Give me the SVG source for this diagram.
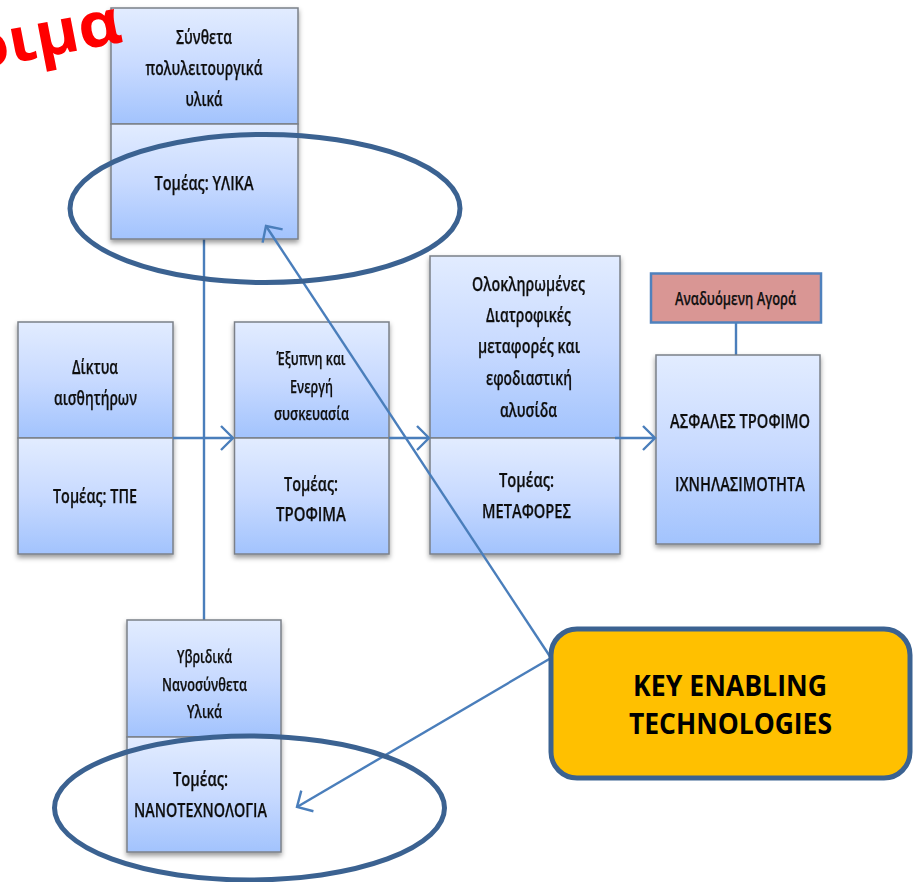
<svg xmlns="http://www.w3.org/2000/svg" width="913" height="882" viewBox="0 0 913 882">
<style>
.t{font-family:"Open Sans","Noto Sans","Liberation Sans",sans-serif;font-size:20px;font-weight:600;fill:#111;stroke:#111;stroke-width:.25;text-anchor:middle}
.box{fill:url(#g);stroke:#7b8088;stroke-width:1.5}
.c{fill:none;stroke:#4a7ebb;stroke-width:2.4}
.e{fill:none;stroke:#3b6291;stroke-width:5}
.shadow{filter:url(#s)}
</style>
<defs>
<linearGradient id="g" x1="0" y1="0" x2="0" y2="1"><stop offset="0" stop-color="#e2ecff"/><stop offset=".5" stop-color="#c8daff"/><stop offset="1" stop-color="#a2c3fd"/></linearGradient>
<filter id="s" x="-10%" y="-10%" width="120%" height="120%"><feDropShadow dx="0" dy="3" stdDeviation="2.5" flood-color="#000" flood-opacity=".4"/></filter>
<marker id="a" markerUnits="userSpaceOnUse" markerWidth="24" markerHeight="28" refX="20" refY="14" orient="auto"><path d="M8 2 L20 14 L8 26" fill="none" stroke="#4a7ebb" stroke-width="2.4"/></marker>
</defs>
<g id="connectors">
<path class="c" d="M204 239V620"/>
<path class="c" d="M736 323V355"/>
</g>
<g id="node-ylika" class="shadow"><rect class="box" x="111" y="8" width="187" height="116"/><rect class="box" x="111" y="124" width="187" height="115"/>
<text class="t" x="204" y="44" textLength="56" lengthAdjust="spacingAndGlyphs">Σύνθετα</text><text class="t" x="204" y="75" textLength="117" lengthAdjust="spacingAndGlyphs">πολυλειτουργικά</text><text class="t" x="204" y="106" textLength="37" lengthAdjust="spacingAndGlyphs">υλικά</text><text class="t" x="204" y="190" textLength="99" lengthAdjust="spacingAndGlyphs">Τομέας: ΥΛΙΚΑ</text></g>
<g id="node-tpe" class="shadow"><rect class="box" x="18" y="322" width="155" height="116"/><rect class="box" x="18" y="438" width="155" height="116"/>
<text class="t" x="95" y="374" textLength="46" lengthAdjust="spacingAndGlyphs">Δίκτυα</text><text class="t" x="95.500" y="405" textLength="83" lengthAdjust="spacingAndGlyphs">αισθητήρων</text><text class="t" x="95" y="503" textLength="84" lengthAdjust="spacingAndGlyphs">Τομέας: ΤΠΕ</text></g>
<g id="node-trofima" class="shadow"><rect class="box" x="234.500" y="322" width="154.500" height="116"/><rect class="box" x="234.500" y="438" width="154.500" height="116"/>
<text class="t" x="311" y="365" style="font-size:18px" textLength="69" lengthAdjust="spacingAndGlyphs">Έξυπνη και</text><text class="t" x="311.500" y="393" style="font-size:18px" textLength="43" lengthAdjust="spacingAndGlyphs">Ενεργή</text><text class="t" x="311.500" y="420" style="font-size:18px" textLength="75" lengthAdjust="spacingAndGlyphs">συσκευασία</text><text class="t" x="311" y="491" textLength="54" lengthAdjust="spacingAndGlyphs">Τομέας:</text><text class="t" x="311" y="521" textLength="70" lengthAdjust="spacingAndGlyphs">ΤΡΟΦΙΜΑ</text></g>
<g id="node-metafores" class="shadow"><rect class="box" x="430" y="256" width="190" height="182"/><rect class="box" x="430" y="438" width="190" height="116"/>
<text class="t" x="528.500" y="291" textLength="113" lengthAdjust="spacingAndGlyphs">Ολοκληρωμένες</text><text class="t" x="528.500" y="322" textLength="85" lengthAdjust="spacingAndGlyphs">Διατροφικές</text><text class="t" x="529" y="353" textLength="102" lengthAdjust="spacingAndGlyphs">μεταφορές και</text><text class="t" x="529" y="385" textLength="86" lengthAdjust="spacingAndGlyphs">εφοδιαστική</text><text class="t" x="528.500" y="417" textLength="57" lengthAdjust="spacingAndGlyphs">αλυσίδα</text><text class="t" x="526.500" y="487" textLength="55" lengthAdjust="spacingAndGlyphs">Τομέας:</text><text class="t" x="526.500" y="518" textLength="89" lengthAdjust="spacingAndGlyphs">ΜΕΤΑΦΟΡΕΣ</text></g>
<g id="node-asfales" class="shadow"><rect class="box" x="656" y="355" width="164" height="189"/>
<text class="t" x="740" y="428" textLength="140" lengthAdjust="spacingAndGlyphs">ΑΣΦΑΛΕΣ ΤΡΟΦΙΜΟ</text><text class="t" x="740" y="491" textLength="130" lengthAdjust="spacingAndGlyphs">ΙΧΝΗΛΑΣΙΜΟΤΗΤΑ</text></g>
<g id="node-agora"><rect x="651" y="273.500" width="170" height="49" fill="#d99694" stroke="#4f81bd" stroke-width="2.500"/>
<text class="t" x="735.500" y="305" style="font-size:18px" textLength="121" lengthAdjust="spacingAndGlyphs">Αναδυόμενη Αγορά</text></g>
<g id="node-nano" class="shadow"><rect class="box" x="127" y="620" width="154" height="117"/><rect class="box" x="127" y="737" width="154" height="115"/>
<text class="t" x="204.500" y="663" style="font-size:18px" textLength="55" lengthAdjust="spacingAndGlyphs">Υβριδικά</text><text class="t" x="204.500" y="691" style="font-size:18px" textLength="85" lengthAdjust="spacingAndGlyphs">Νανοσύνθετα</text><text class="t" x="204.500" y="718" style="font-size:18px" textLength="35" lengthAdjust="spacingAndGlyphs">Υλικά</text><text class="t" x="200.500" y="786" textLength="55" lengthAdjust="spacingAndGlyphs">Τομέας:</text><text class="t" x="200.500" y="817" textLength="133" lengthAdjust="spacingAndGlyphs">ΝΑΝΟΤΕΧΝΟΛΟΓΙΑ</text></g>
<g id="connectors-2">
<path class="c" d="M173 438H233" marker-end="url(#a)"/>
<path class="c" d="M389 438H429" marker-end="url(#a)"/>
<path class="c" d="M615 438H655" marker-end="url(#a)"/>
<path class="c" d="M551 658L266 226" marker-end="url(#a)"/>
<path class="c" d="M551 658L297 807" marker-end="url(#a)"/>
</g>
<g id="ellipses">
<ellipse class="e" cx="265" cy="208.500" rx="195" ry="74"/>
<ellipse class="e" cx="249.500" cy="808" rx="195" ry="72"/>
</g>
<g id="node-ket"><rect x="551" y="629" width="359" height="149" rx="26" fill="#ffc000" stroke="#3b6291" stroke-width="5"/>
<text x="730" y="696" font-family="Open Sans,Noto Sans,Liberation Sans,sans-serif" font-size="28" font-weight="700" fill="#000" text-anchor="middle" textLength="194" lengthAdjust="spacingAndGlyphs">KEY ENABLING</text>
<text x="730.500" y="734" font-family="Open Sans,Noto Sans,Liberation Sans,sans-serif" font-size="28" font-weight="700" fill="#000" text-anchor="middle" textLength="203" lengthAdjust="spacingAndGlyphs">TECHNOLOGIES</text></g>
<text x="-28" y="71" transform="rotate(-11 -28 71)" font-family="Open Sans,Noto Sans,Liberation Sans,sans-serif" font-size="62" font-weight="700" fill="#f00" textLength="155" lengthAdjust="spacingAndGlyphs">οιμα</text>
</svg>
